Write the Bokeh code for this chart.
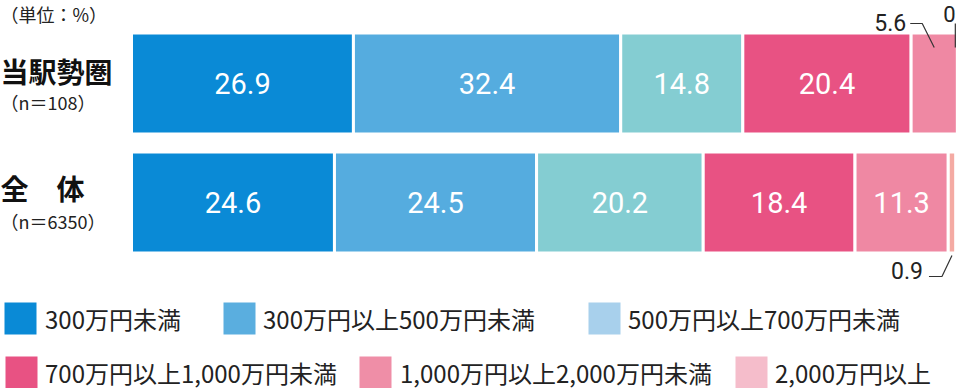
from bokeh.plotting import figure
from bokeh.models import Range1d, ColumnDataSource, Legend, LegendItem
from bokeh.core.properties import value
from bokeh.embed import file_html
from bokeh.resources import INLINE

# ---------------- data ----------------
categories = ["当駅勢圏", "全　体"]
sample_sizes = ["（n＝108）", "（n＝6350）"]
series_names = ["300万円未満", "300万円以上500万円未満", "500万円以上700万円未満",
                "700万円以上1,000万円未満", "1,000万円以上2,000万円未満", "2,000万円以上"]
station_area = [26.9, 32.4, 14.8, 20.4, 5.6, 0]
overall = [24.6, 24.5, 20.2, 18.4, 11.3, 0.9]
unit_label = "（単位：%）"

bar_colors = ["#0a8ad6", "#55acdf", "#84cdd2", "#e85283", "#ef88a3", "#f4aaa3"]
legend_colors = ["#0a8ad6", "#5aaedf", "#a8d0ec", "#e85283", "#ef8ea7", "#f5bdcb"]

# ---------------- geometry helpers ----------------
W, H = 958, 388
PX = 8.25      # pixels per percent
X0 = 131       # figure px of 0 %
ROW = 119      # pixels per row
Y0 = 83        # figure px of first row centre


def xpx(fig_px):
    return (fig_px - X0) / PX


def dx(px):
    return px / PX


def dy(px):
    return px / ROW


p = figure(width=W, height=H, output_backend="svg", toolbar_location=None,
           x_range=Range1d(xpx(0), xpx(W)),
           y_range=Range1d((H - Y0) / ROW, -Y0 / ROW),
           min_border=0, x_axis_location=None, y_axis_location=None,
           outline_line_color=None, background_fill_color="white",
           border_fill_color="white")
p.grid.visible = False

BH = dy(101)
rows = [station_area, overall]

ys, lefts, rights, cols, mids, labs = [], [], [], [], [], []
for r, vals in enumerate(rows):
    cum = 0.0
    for i, v in enumerate(vals):
        if v > 0:
            ys.append(r)
            lefts.append(cum)
            rights.append(cum + v)
            cols.append(bar_colors[i])
            mids.append(cum + v / 2)
            labs.append(f"{v:.1f}" if v >= 10 else "")
        cum += v

src = ColumnDataSource(dict(y=ys, left=lefts, right=rights, color=cols, mid=mids, lab=labs))
p.hbar(y="y", left="left", right="right", height=BH, fill_color="color",
       line_color="white", line_width=3, source=src)
p.text(x="mid", y="y", text="lab", source=src, text_color="white",
       text_font=value("Roboto"), text_font_size="29px",
       text_align="center", text_baseline="middle")

# ---------------- callouts ----------------
LINE = "#333333"
CFONT = value("Roboto")
half = dy(49)

# 5.6 (row 0, segment 5)
c0 = sum(station_area[:4])
m = c0 + station_area[4] / 2
top0 = 0 - half
p.line([m, m - dx(12), m - dx(24)], [top0 + dy(13), top0 - dy(11), top0 - dy(11)],
       line_color=LINE, line_width=1.2)
p.text(x=[m - dx(28)], y=[top0 - dy(12)], text=[f"{station_area[4]:.1f}"],
       text_font=CFONT, text_font_size="23px", text_color="#222222",
       text_align="right", text_baseline="middle")

# 0 (row 0, segment 6)
e = sum(station_area[:5]) + station_area[5]
p.line([e - dx(2), e - dx(2)], [top0 + dy(13), top0 - dy(11)],
       line_color=LINE, line_width=1.2)
p.text(x=[e - dx(8)], y=[top0 - dy(13)], text=[f"{station_area[5]:g}"],
       text_font=CFONT, text_font_size="22px", text_color="#222222",
       text_align="center", text_baseline="bottom")

# 0.9 (row 1, segment 6)
m1 = sum(overall[:5]) + overall[5] / 2
bot1 = 1 + half
p.line([m1, m1 - dx(10), m1 - dx(23)], [bot1 + dy(4), bot1 + dy(25), bot1 + dy(25)],
       line_color=LINE, line_width=1.2)
p.text(x=[m1 - dx(29)], y=[bot1 + dy(19)], text=[f"{overall[5]:.1f}"],
       text_font=CFONT, text_font_size="23px", text_color="#222222",
       text_align="right", text_baseline="middle")

# ---------------- category labels ----------------
JP = value("Noto Sans CJK JP")
p.text(x=[xpx(0)] * 2, y=[0 - dy(13), 1 - dy(15)], text=categories,
       text_font=JP, text_font_size="28px", text_font_style="bold",
       text_color="#111111", text_align="left", text_baseline="middle")
p.text(x=[xpx(0)] * 2, y=[r + dy(18) for r in range(2)], text=sample_sizes,
       text_font=JP, text_font_size="18px", text_color="#222222",
       text_align="left", text_baseline="middle")
p.text(x=[xpx(0)], y=[-Y0 / ROW], text=[unit_label],
       text_font=JP, text_font_size="18px", text_color="#222222",
       text_align="left", text_baseline="top")

# ---------------- legend ----------------
legend_pos = [(0, 50, 5), (219, 50, 4), (584, 50, 4),
              (1, -4, 4), (355, -4, 5), (731, -4, 4)]
for name, c, (lx, ly, st) in zip(series_names, legend_colors, legend_pos):
    r = p.quad(left=[0], right=[0], top=[0], bottom=[0], fill_color=c, line_color=None)
    lg = Legend(items=[LegendItem(label=name, renderers=[r])],
                location=(lx, ly), glyph_width=40, glyph_height=40,
                label_standoff=st, padding=0, margin=0, spacing=0,
                border_line_color=None, background_fill_alpha=0,
                label_text_font="Noto Sans CJK JP", label_text_font_size="24px",
                label_text_color="#222222", label_height=40)
    p.add_layout(lg)

open("out.html", "w").write(file_html(p, INLINE))
